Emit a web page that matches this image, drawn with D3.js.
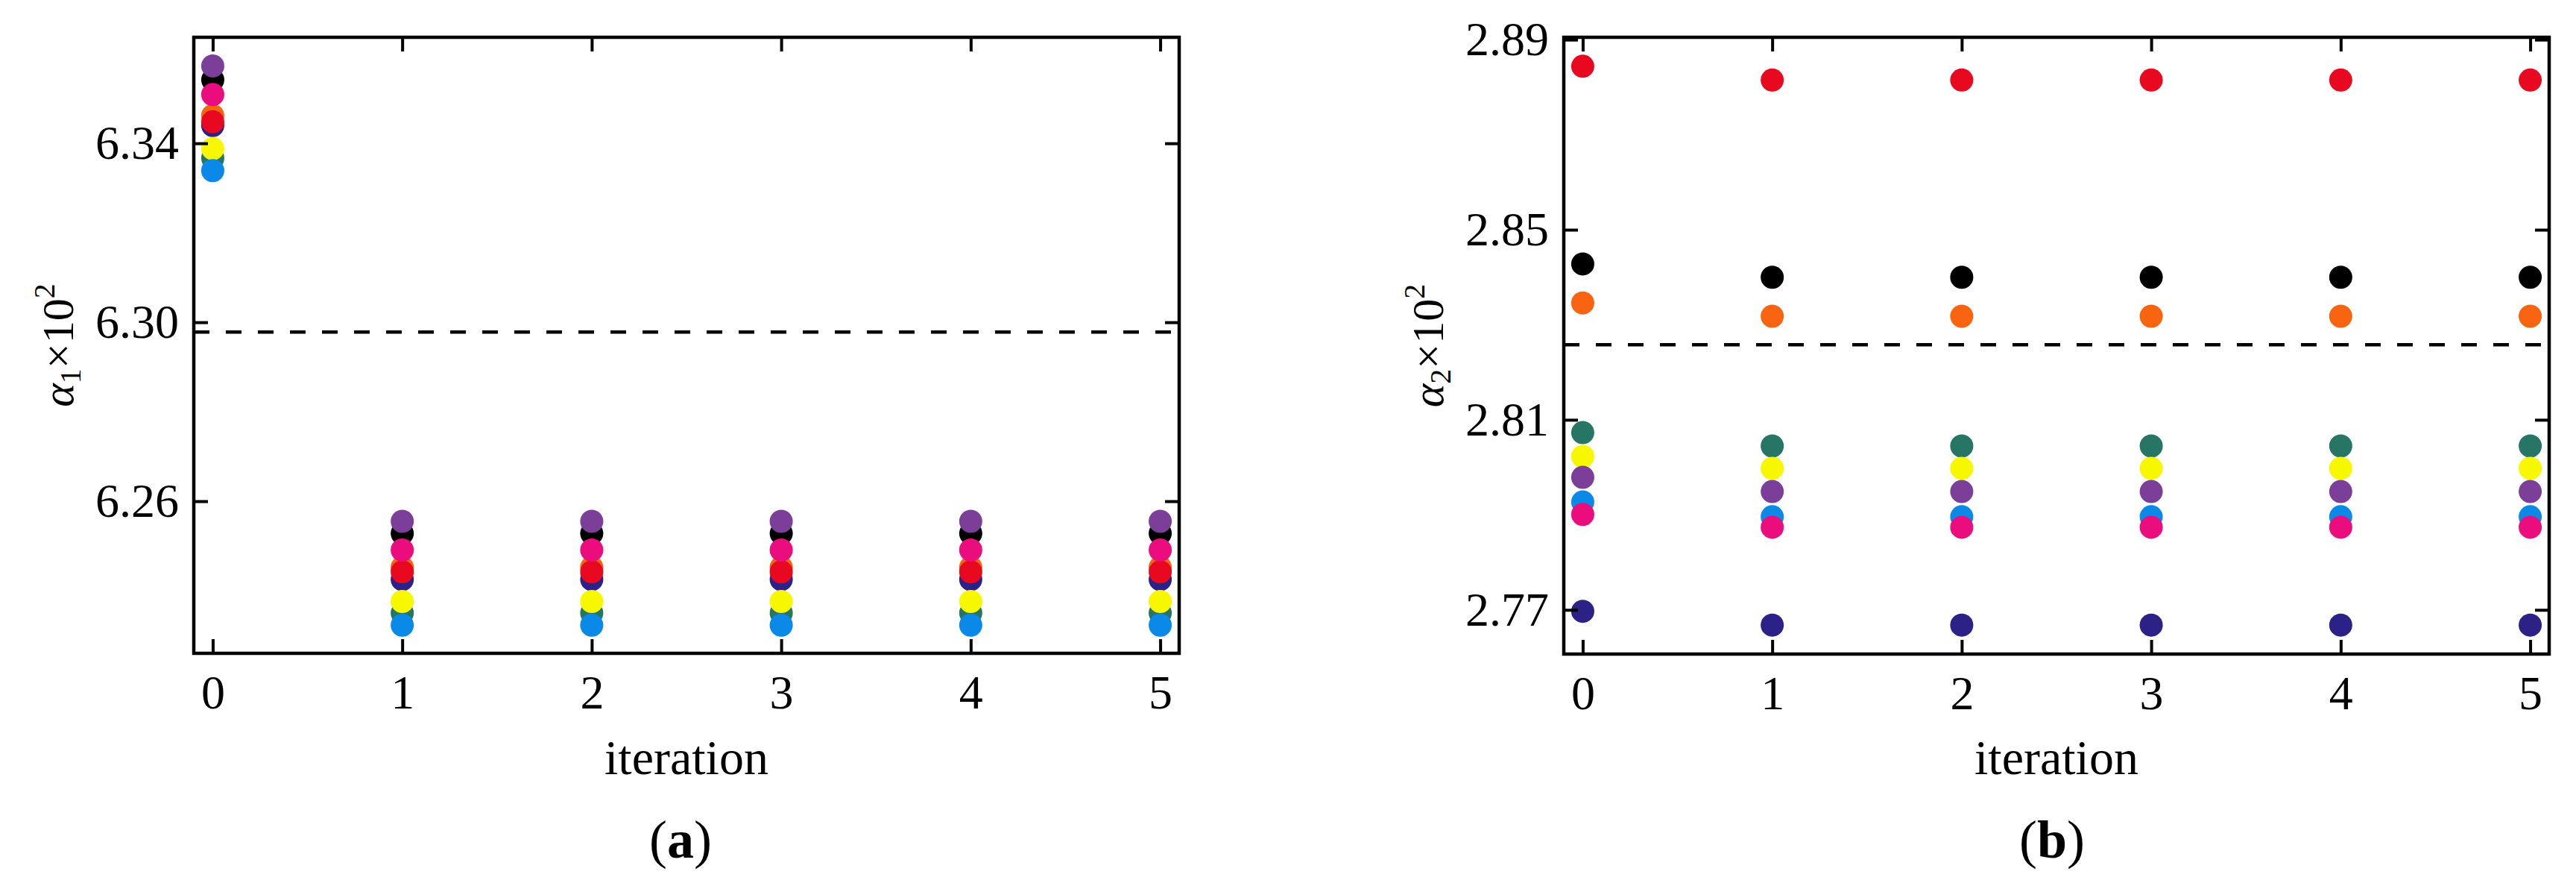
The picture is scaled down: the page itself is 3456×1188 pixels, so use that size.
<!DOCTYPE html>
<html>
<head>
<meta charset="utf-8">
<script src="https://cdn.jsdelivr.net/npm/d3@7"></script>
<style>
  html, body { margin: 0; padding: 0; background: #fff; }
  svg { display: block; }
  text { font-family: "Liberation Serif", "Times New Roman", serif; fill: #000; }
</style>
</head>
<body>
<script>
// ---------------- DATA ----------------
const iterations = [0, 1, 2, 3, 4, 5];

// panel (a): alpha1 x 10^2
const a1Black  = [6.3542, 6.2528, 6.2528, 6.2528, 6.2528, 6.2528];
const a1Orange = [6.3462, 6.2452, 6.2452, 6.2452, 6.2452, 6.2452];
const a1Navy   = [6.3440, 6.2425, 6.2425, 6.2425, 6.2425, 6.2425];
const a1Teal   = [6.3367, 6.2350, 6.2350, 6.2350, 6.2350, 6.2350];
const a1Red    = [6.3448, 6.2442, 6.2442, 6.2442, 6.2442, 6.2442];
const a1Yellow = [6.3388, 6.2376, 6.2376, 6.2376, 6.2376, 6.2376];
const a1Purple = [6.3573, 6.2555, 6.2555, 6.2555, 6.2555, 6.2555];
const a1Blue   = [6.3339, 6.2323, 6.2323, 6.2323, 6.2323, 6.2323];
const a1Pink   = [6.3509, 6.2491, 6.2491, 6.2491, 6.2491, 6.2491];
const a1Reference = 6.2978;

// panel (b): alpha2 x 10^2
const a2Black  = [2.8428, 2.8400, 2.8400, 2.8400, 2.8400, 2.8400];
const a2Orange = [2.8346, 2.8318, 2.8318, 2.8318, 2.8318, 2.8318];
const a2Navy   = [2.7697, 2.7668, 2.7668, 2.7668, 2.7668, 2.7668];
const a2Teal   = [2.8073, 2.8045, 2.8045, 2.8045, 2.8045, 2.8045];
const a2Red    = [2.8844, 2.8815, 2.8815, 2.8815, 2.8815, 2.8815];
const a2Yellow = [2.8023, 2.7998, 2.7998, 2.7998, 2.7998, 2.7998];
const a2Purple = [2.7979, 2.7949, 2.7949, 2.7949, 2.7949, 2.7949];
const a2Blue   = [2.7927, 2.7896, 2.7896, 2.7896, 2.7896, 2.7896];
const a2Pink   = [2.7901, 2.7874, 2.7874, 2.7874, 2.7874, 2.7874];
const a2Reference = 2.8258;

// draw order (bottom to top) and colours
const seriesNames  = ["black", "orange", "navy", "teal", "red", "yellow", "purple", "blue", "pink"];
const seriesColors = ["#000000", "#f8640f", "#2b2186", "#267565", "#e8081f", "#f7f700", "#7c3f99", "#0a89e8", "#eb0c7e"];

const xTicks  = [0, 1, 2, 3, 4, 5];
const y1Ticks = [6.26, 6.30, 6.34];
const y2Ticks = [2.77, 2.81, 2.85, 2.89];

const panelA = [a1Black, a1Orange, a1Navy, a1Teal, a1Red, a1Yellow, a1Purple, a1Blue, a1Pink];
const panelB = [a2Black, a2Orange, a2Navy, a2Teal, a2Red, a2Yellow, a2Purple, a2Blue, a2Pink];

// ---------------- DRAW ----------------
const W = 3456, H = 1188;
const svg = d3.select("body").append("svg")
  .attr("width", W).attr("height", H)
  .attr("viewBox", `0 0 ${W} ${H}`);
svg.append("rect").attr("width", W).attr("height", H).attr("fill", "#fff");

function panel(cfg) {
  const x = d3.scaleLinear().domain([-0.1, 5.1]).range([cfg.left, cfg.right]);
  const y = d3.scaleLinear().domain(cfg.yDomain).range([cfg.bottom, cfg.top]);
  const g = svg.append("g");

  // dashed reference line
  g.append("line")
    .attr("x1", cfg.left).attr("x2", cfg.right)
    .attr("y1", y(cfg.ref)).attr("y2", y(cfg.ref))
    .attr("stroke", "#000").attr("stroke-width", 4.5)
    .attr("stroke-dasharray", "21,22");

  // points
  cfg.series.forEach((vals, si) => {
    g.append("g").selectAll("circle")
      .data(iterations.map((it, i) => ({ it, v: vals[i] })))
      .join("circle")
      .attr("cx", d => x(d.it))
      .attr("cy", d => y(d.v))
      .attr("r", 15.5)
      .attr("fill", seriesColors[si]);
  });

  const tickLen = -19;
  const fmt = d3.format(".2f");

  const axB = g.append("g").attr("transform", `translate(0,${cfg.bottom})`)
    .call(d3.axisBottom(x).tickValues(xTicks).tickFormat(d3.format("d"))
      .tickSize(tickLen).tickSizeOuter(0).tickPadding(29));
  const axT = g.append("g").attr("transform", `translate(0,${cfg.top})`)
    .call(d3.axisTop(x).tickValues(xTicks).tickFormat("")
      .tickSize(tickLen).tickSizeOuter(0));
  const axL = g.append("g").attr("transform", `translate(${cfg.left},0)`)
    .call(d3.axisLeft(y).tickValues(cfg.yTicks).tickFormat(fmt)
      .tickSize(tickLen).tickSizeOuter(0).tickPadding(20));
  const axR = g.append("g").attr("transform", `translate(${cfg.right},0)`)
    .call(d3.axisRight(y).tickValues(cfg.yTicks).tickFormat("")
      .tickSize(tickLen).tickSizeOuter(0));

  [axB, axT, axL, axR].forEach(a => {
    a.select(".domain").remove();
    a.selectAll(".tick line").attr("stroke", "#000").attr("stroke-width", 4);
    a.selectAll(".tick text")
      .attr("font-family", "'Liberation Serif', 'Times New Roman', serif")
      .attr("font-size", 64).attr("fill", "#000");
  });

  // frame
  g.append("rect")
    .attr("x", cfg.left).attr("y", cfg.top)
    .attr("width", cfg.right - cfg.left).attr("height", cfg.bottom - cfg.top)
    .attr("fill", "none").attr("stroke", "#000").attr("stroke-width", 4.5);

  // y label
  const cy = (cfg.top + cfg.bottom) / 2;
  const yl = g.append("text")
    .attr("transform", `translate(${cfg.left - 162},${cy}) rotate(-90)`)
    .attr("text-anchor", "middle")
    .attr("font-size", 60);
  yl.append("tspan").attr("font-style", "italic").text("α");
  yl.append("tspan").attr("font-size", 40).attr("dy", 10).text(cfg.sub);
  yl.append("tspan").attr("dy", -10).text("×10");
  yl.append("tspan").attr("font-size", 40).attr("dy", -25).text("2");

  // x label
  const cx = (cfg.left + cfg.right) / 2;
  g.append("text").attr("x", cx).attr("y", 1038)
    .attr("text-anchor", "middle").attr("font-size", 66).text("iteration");

  // panel tag
  const tag = g.append("text").attr("x", cx + cfg.tagShift).attr("y", 1150)
    .attr("text-anchor", "middle").attr("font-size", 72);
  tag.append("tspan").text("(");
  tag.append("tspan").attr("font-weight", "bold").text(cfg.tag);
  tag.append("tspan").text(")");
}

panel({
  left: 260, right: 1582, top: 50, bottom: 876,
  yDomain: [6.2260, 6.3637], yTicks: y1Ticks, ref: a1Reference,
  series: panelA, sub: "1", tag: "a", tagShift: -8
});
panel({
  left: 2098, right: 3420, top: 50, bottom: 877,
  yDomain: [2.7607, 2.8905], yTicks: y2Ticks, ref: a2Reference,
  series: panelB, sub: "2", tag: "b", tagShift: -6
});
</script>
</body>
</html>
